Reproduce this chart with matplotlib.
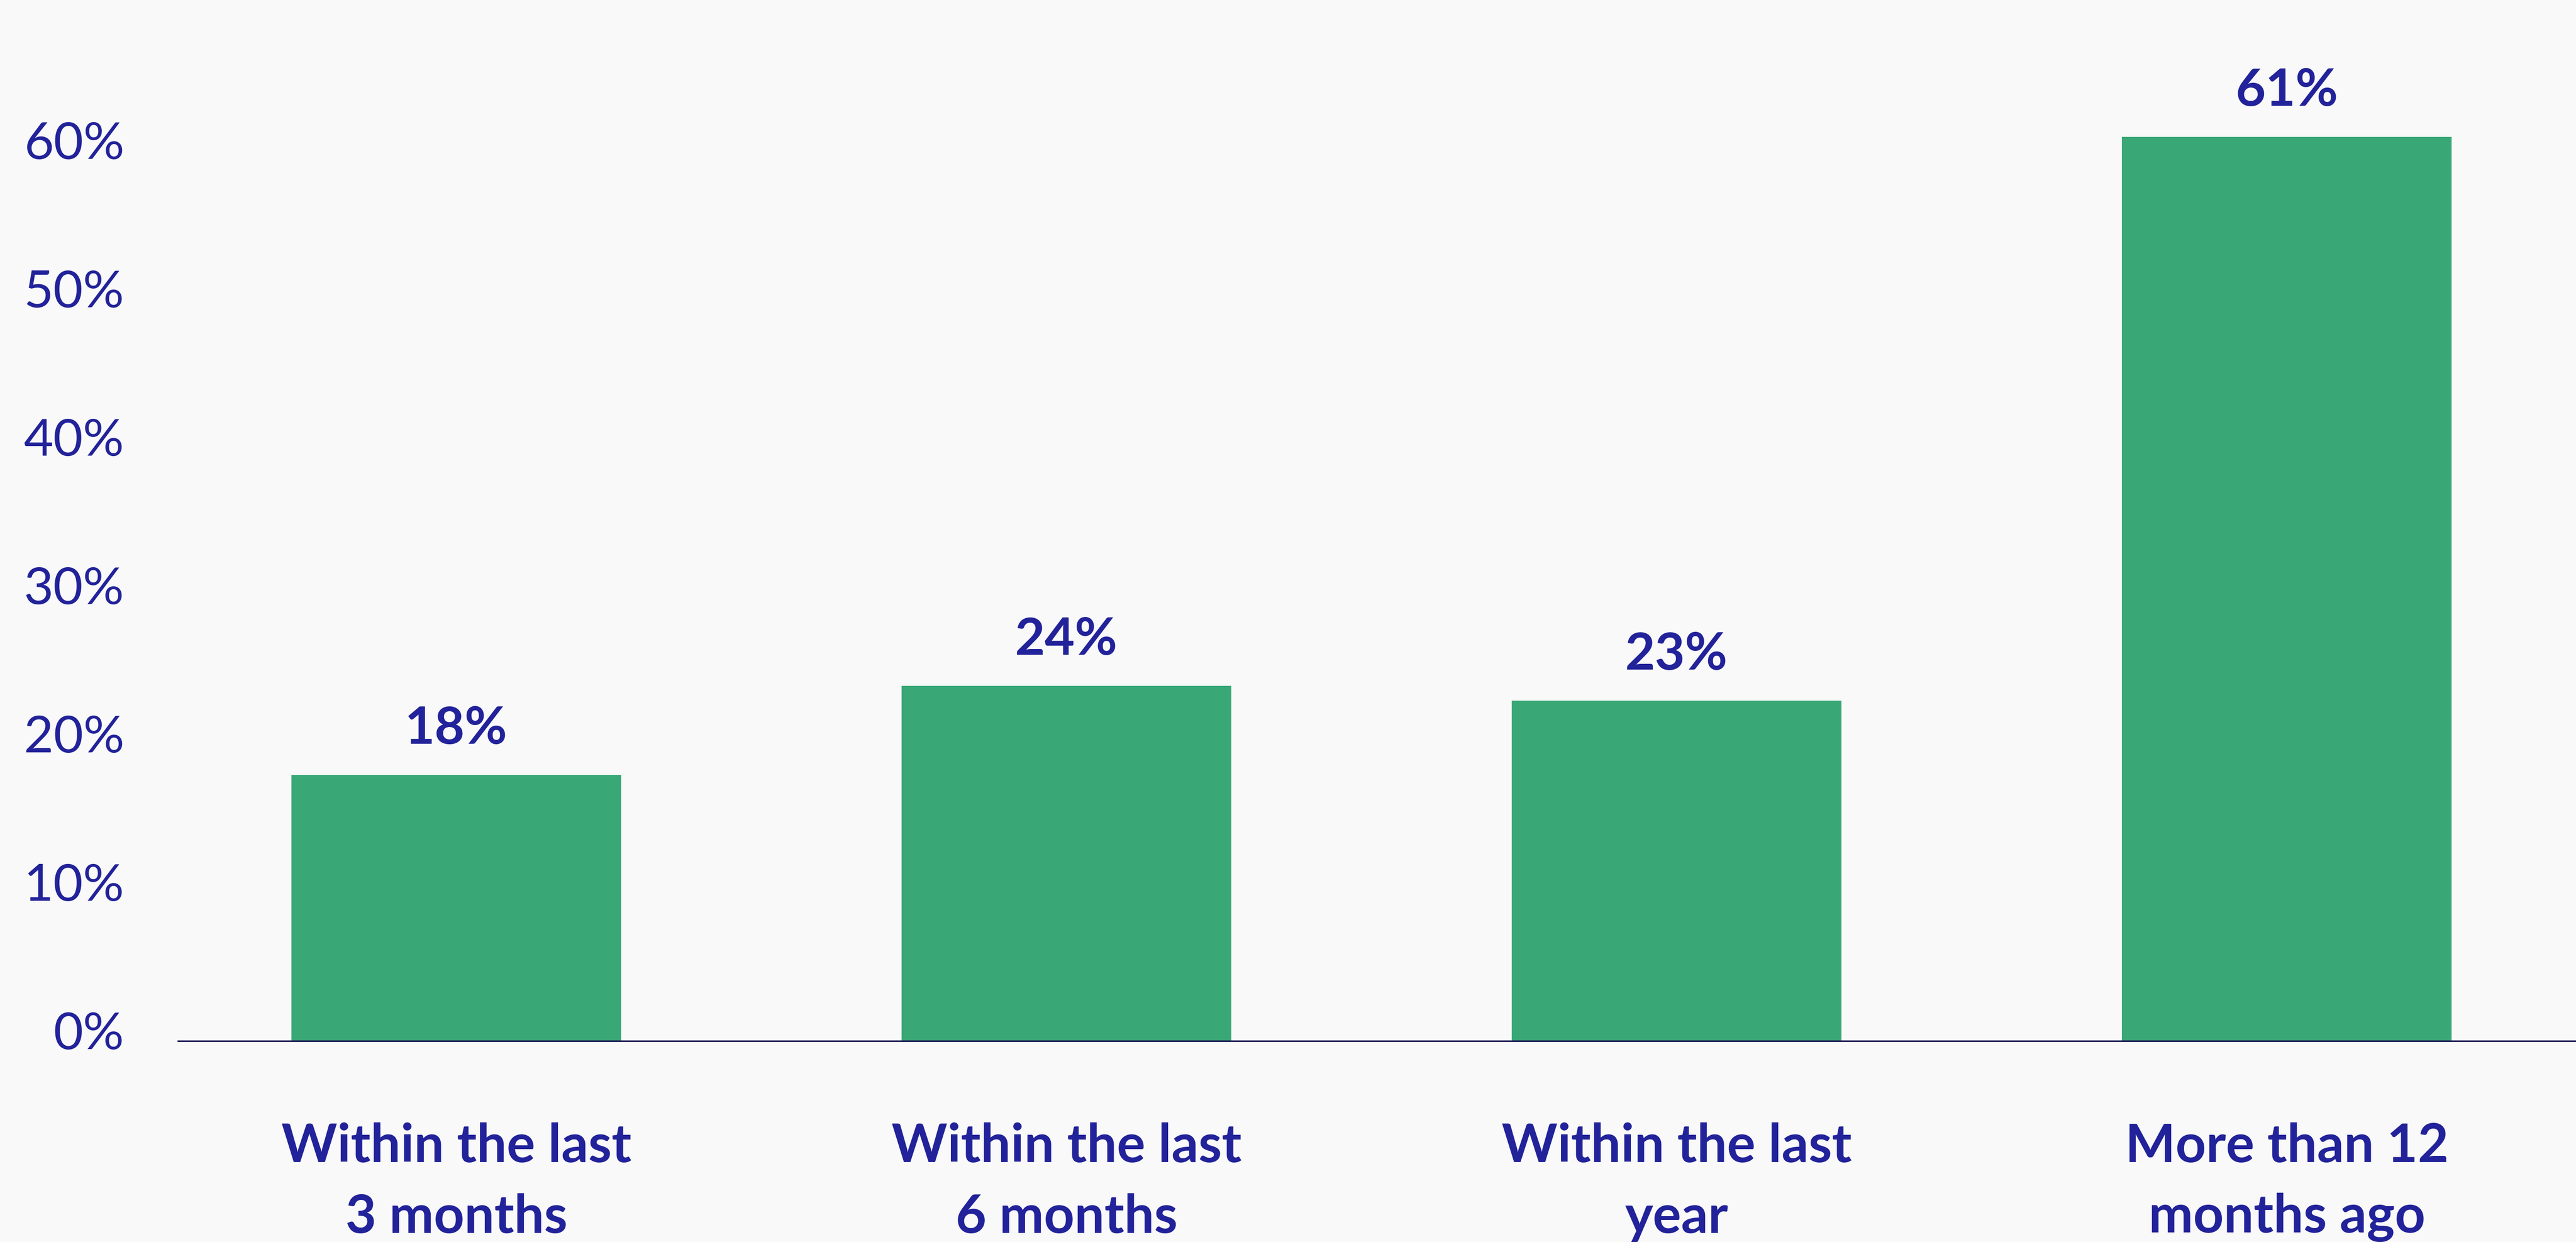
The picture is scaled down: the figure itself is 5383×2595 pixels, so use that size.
import matplotlib
matplotlib.use("Agg")
import matplotlib.pyplot as plt
from matplotlib.transforms import ScaledTranslation, blended_transform_factory

# Data
categories = ["Within the last\n3 months", "Within the last\n6 months",
              "Within the last\nyear", "More than 12\nmonths ago"]
shares = [18, 24, 23, 61]
y_ticks = [0, 10, 20, 30, 40, 50, 60]

bg = "#F9F9F9"
bar_color = "#3AA876"
text_color = "#22229A"
line_color = "#16124F"

plt.rcParams["font.family"] = ["Lato", "DejaVu Sans"]

fig = plt.figure(figsize=(53.83, 25.95), dpi=100, facecolor=bg)
ax = fig.add_axes([0.0689, 0.1611, 0.9311, 0.7884])
ax.set_facecolor(bg)

x = range(len(categories))
ax.bar(x, shares, width=0.54, color=bar_color, zorder=2)
ax.axhline(0, color=line_color, linewidth=4.6, solid_capstyle="round", zorder=3)

ax.set_xlim(-0.457, 3.474)
ax.set_ylim(0, 66)

for s in ax.spines.values():
    s.set_visible(False)

ax.set_xticks([])
ax.set_yticks(y_ticks)
ax.set_yticklabels([f"{t}%" for t in y_ticks], fontsize=77, color=text_color)
ax.tick_params(axis="y", length=0, pad=80)
shift = ScaledTranslation(0, 0.24, fig.dpi_scale_trans)
for lbl in ax.get_yticklabels():
    lbl.set_transform(lbl.get_transform() + shift)

# value labels above bars
for i, v in enumerate(shares):
    ax.annotate(f"{v}%", (i, v), xytext=(0, 47), textcoords="offset points",
                ha="center", va="baseline", fontsize=78, fontweight="bold",
                color=text_color)

# category labels under the axis line
trans = blended_transform_factory(ax.transData, ax.transAxes)
for i, c in enumerate(categories):
    ax.annotate(c, (i, 0), xycoords=trans, xytext=(0, -211),
                textcoords="offset points", ha="center", va="center",
                fontsize=80, fontweight="bold", color=text_color,
                linespacing=1.55, annotation_clip=False)

fig.savefig("out.png", dpi=100, facecolor=bg)
